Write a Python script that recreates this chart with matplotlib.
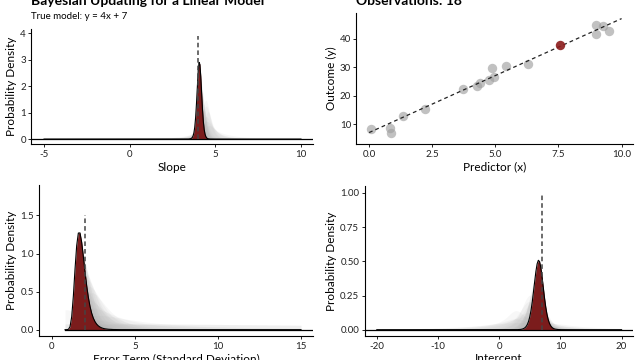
import numpy as np
import matplotlib
matplotlib.use("Agg")
import matplotlib.pyplot as plt

plt.rcParams['font.family'] = ['Lato', 'DejaVu Sans']

# observations, in the order they arrived (the last one is highlighted)
obs_x = [0.86, 9.00, 9.25, 4.85, 5.42, 0.81, 3.73, 9.51, 1.36, 4.28,
         6.30, 2.23, 4.95, 0.07, 4.40, 9.00, 4.73, 7.56]
obs_y = [6.7, 44.6, 44.5, 29.6, 30.3, 8.5, 22.2, 42.5, 12.8, 23.5,
         30.9, 15.3, 26.5, 8.1, 24.3, 41.6, 25.4, 37.8]

true_slope = 4
true_intercept = 7
true_sigma = 2
vline_top = {"slope": 3.9, "sigma": 1.5, "intercept": 1.0}

# parameter grids (flat priors)
slope_grid = np.linspace(-5, 10, 301)
icpt_grid = np.linspace(-20, 20, 201)
sigma_grid = np.linspace(0.8, 15, 143)

RED = "#7b1c1c"
GREY = "#a8a8a8"

def posteriors():
	B, A = np.meshgrid(slope_grid, icpt_grid, indexing='ij')
	S = np.zeros_like(B)
	out = []
	sig = sigma_grid[None, None, :]
	ds = slope_grid[1] - slope_grid[0]
	da = icpt_grid[1] - icpt_grid[0]
	dsg = sigma_grid[1] - sigma_grid[0]
	for n in range(1, len(obs_x) + 1):
		r = obs_y[n-1] - A - B * obs_x[n-1]
		S = S + r**2
		logp = -n * np.log(sig) - S[:, :, None] / (2 * sig**2)
		p = np.exp(logp - logp.max())
		tot = p.sum()
		m_slope = p.sum(axis=(1, 2)) / tot / ds
		m_icpt = p.sum(axis=(0, 2)) / tot / da
		m_sig = p.sum(axis=(0, 1)) / tot / dsg
		out.append((m_slope, m_icpt, m_sig))
	return out

post = posteriors()

fig = plt.figure(figsize=(6.4, 3.6), dpi=100)
ax_s = fig.add_axes([0.049, 0.599, 0.440, 0.320])
ax_d = fig.add_axes([0.557, 0.599, 0.432, 0.366])
ax_e = fig.add_axes([0.0614, 0.0667, 0.4276, 0.4193])
ax_i = fig.add_axes([0.570, 0.0667, 0.419, 0.4163])

def density_panel(ax, grid, idx, true_val, top, xlabel, xlim, ylim, xticks, yticks, yfmt):
	for n in range(len(post) - 1):
		ax.fill_between(grid, 0, post[n][idx], color=GREY, alpha=0.09, lw=0)
	final = post[-1][idx]
	ax.fill_between(grid, 0, final, color=RED, lw=0, zorder=3)
	ax.plot(grid, final, color="black", lw=0.8, zorder=4)
	ax.plot([true_val, true_val], [0, top], color="#444444", ls=(0, (3, 2)), lw=1.1, zorder=5)
	ax.set_xlim(*xlim)
	ax.set_ylim(*ylim)
	ax.set_xticks(xticks)
	ax.set_yticks(yticks)
	ax.set_yticklabels([yfmt.format(v) for v in yticks])
	ax.set_xticklabels([str(v) for v in xticks])
	ax.set_xlabel(xlabel, fontsize=8.5, labelpad=2)
	ax.set_ylabel("Probability Density", fontsize=8.5, labelpad=2)

def style(ax):
	for s in ["top", "right"]:
		ax.spines[s].set_visible(False)
	for s in ["left", "bottom"]:
		ax.spines[s].set_linewidth(0.8)
	ax.tick_params(labelsize=7, length=2.5, width=0.7, pad=1.5, colors="#222222")

density_panel(ax_s, slope_grid, 0, true_slope, vline_top["slope"], "Slope",
	(-5.74, 10.7), (-0.2, 4.16), [-5, 0, 5, 10], [0, 1, 2, 3, 4], "{:g}")
ax_s.axhline(0, color="black", lw=0.9, zorder=4)

density_panel(ax_e, sigma_grid, 2, true_sigma, vline_top["sigma"], "Error Term (Standard Deviation)",
	(-0.75, 15.72), (-0.083, 1.9), [0, 5, 10, 15], [0.0, 0.5, 1.0, 1.5], "{:.1f}")
ax_e.plot([sigma_grid[0], 15.72], [0, 0], color="black", lw=0.9, zorder=4)

density_panel(ax_i, icpt_grid, 1, true_intercept, vline_top["intercept"], "Intercept",
	(-21.96, 21.86), (-0.046, 1.05), [-20, -10, 0, 10, 20], [0, 0.25, 0.5, 0.75, 1.0], "{:.2f}")
ax_i.axhline(0, color="black", lw=0.9, zorder=4)

# data panel
line_x = np.array([0, 10])
ax_d.plot(line_x, true_intercept + true_slope * line_x, color="#222222", ls=(0, (3, 2.5)), lw=0.9, zorder=3)
ax_d.scatter(obs_x[:-1], obs_y[:-1], s=46, color="#a0a0a0", alpha=0.65, lw=0, zorder=2)
ax_d.scatter(obs_x[-1:], obs_y[-1:], s=46, color="#8b1a1a", alpha=0.9, lw=0, zorder=4)
ax_d.set_xlim(-0.5, 10.45)
ax_d.set_ylim(2.86, 49.1)
ax_d.set_xticks([0, 2.5, 5, 7.5, 10])
ax_d.set_xticklabels(["0.0", "2.5", "5.0", "7.5", "10.0"])
ax_d.set_yticks([10, 20, 30, 40])
ax_d.set_xlabel("Predictor (x)", fontsize=8.5, labelpad=2)
ax_d.set_ylabel("Outcome (y)", fontsize=8.5, labelpad=2)

for ax in [ax_s, ax_d, ax_e, ax_i]:
	style(ax)

fig.text(0.049, 0.986, "Bayesian Updating for a Linear Model", fontsize=10, fontweight="bold", va="baseline")
fig.text(0.049, 0.946, "True model: y = 4x + 7", fontsize=7, va="baseline")
fig.text(0.557, 0.986, "Observations: 18", fontsize=10, fontweight="bold", va="baseline")

fig.savefig("out.png", dpi=100)
